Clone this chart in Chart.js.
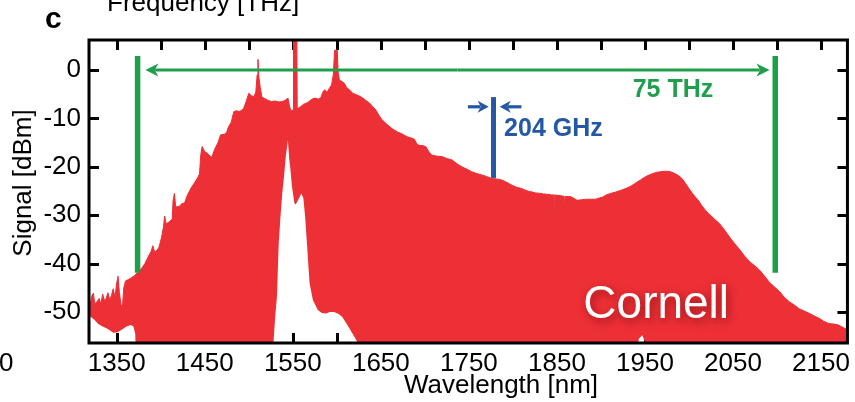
<!DOCTYPE html>
<html><head><meta charset="utf-8">
<script src="https://cdn.jsdelivr.net/npm/chart.js@4/dist/chart.umd.min.js"></script>
<style>html,body{margin:0;padding:0;background:#fff;overflow:hidden}#wrap{width:855px;height:402px;position:relative}</style>
</head><body><div id="wrap"><canvas id="c" width="855" height="402"></canvas></div>
<script>
// Upper envelope of the comb spectrum (wavelength nm, signal dBm)
const wavelengthTop = [1317,1320,1322,1323.5,1325,1328,1330,1332,1334,1336,1338,1340,1342,1344,1346,1348,1350,1351.5,1353,1355,1356.5,1358,1360,1363,1366,1370,1374,1378,1382,1386,1389,1391,1393,1396,1398,1401,1403,1404.5,1406,1410,1413,1414,1415.5,1417,1421,1424,1427,1430,1434,1438,1442,1444,1445.5,1447,1450,1453,1456,1458,1461,1465,1468,1472,1475,1477,1480,1483,1486,1489,1492,1494,1497,1500,1503,1506,1508,1509.5,1510.4,1511.5,1513,1515,1518,1522,1526,1530,1534,1538,1541,1544.5,1546,1547.5,1550.4,1550.8,1554.5,1555,1558,1562,1567,1571,1575,1579,1582,1584,1586,1589,1592,1594,1596,1597.5,1600.5,1601.5,1603,1606,1608.8,1611,1614.4,1618,1622,1626,1629.5,1633,1637,1641,1644.5,1648,1651,1655,1658,1662,1665,1669,1673,1677,1680,1684,1688,1691,1694,1697,1701,1705,1708,1714,1720,1725,1731,1736,1742,1748,1753,1759,1765,1770,1776,1781,1787,1793,1799,1804,1810,1815,1818.5,1819,1819.5,1826,1832,1834.5,1835,1835.5,1844,1846.5,1847,1847.5,1855,1858,1858.5,1859,1866,1872,1873.3,1873.7,1874.1,1883,1889,1894,1899,1900.5,1901,1901.5,1906,1911,1917,1922,1928,1934,1939,1945,1951,1956,1962,1968,1973,1979,1984,1988,1992,1996,2000,2004,2007,2011,2014,2018,2022,2029,2035,2041,2046,2052,2058,2063,2069,2075,2080,2086,2091,2097,2103,2108,2114,2120,2125,2131,2137,2142,2148,2153,2159,2165,2170,2175,2180];
const signalTop = [-48.9,-48.2,-46.5,-46.1,-48.3,-47.8,-47.2,-48.3,-46.3,-47.6,-47.2,-46,-47.5,-46.6,-45.2,-47,-44,-42.6,-46,-48.6,-48.8,-45,-43.6,-43.3,-43,-42.5,-41.8,-41,-40,-38.5,-37.5,-36.3,-37.6,-37.2,-36.6,-34.5,-32.5,-30.2,-31.8,-31.3,-30.8,-27,-25.5,-28.3,-28.2,-27.6,-27.5,-26,-24.5,-23.4,-22.2,-21.5,-17.5,-15.8,-16.9,-17.2,-17.8,-18,-16.5,-15,-13.4,-13.3,-12.8,-11.7,-10.8,-8.6,-8.4,-8.6,-8.3,-8,-6.5,-4.8,-5.3,-5.5,-4.5,-1,2.2,-1.5,-3.6,-5.6,-5.9,-6.3,-6.5,-6.4,-6.6,-6.5,-6.3,-5.8,-7.2,-8.3,-8.3,10,10,-8,-7.7,-7.1,-6.7,-6.1,-5.8,-6,-5.7,-4.6,-4.1,-4.6,-3.6,-3.1,-1,4.1,4.1,-0.5,-2.1,-2.4,-2.8,-3.6,-4.1,-4.8,-5.1,-5.4,-5.8,-6.3,-6.8,-7.6,-8.3,-9.4,-10.2,-10.9,-11.4,-12,-12.4,-12.8,-13.1,-13.5,-13.8,-14,-14.3,-15.3,-15.6,-15.6,-15.8,-17,-17.6,-17.8,-17.9,-18.3,-18.6,-19.3,-20,-20.5,-21,-21.4,-21.7,-22,-22.4,-22.5,-22.7,-23.2,-23.8,-24.2,-24.5,-24.9,-25.1,-26.8,-25.1,-25.4,-25.5,-25.6,-28,-25.6,-25.8,-25.8,-29,-25.8,-26,-26.1,-28.2,-26.1,-26.2,-26.8,-26.9,-28.5,-26.9,-26.7,-26.7,-26.7,-26.4,-26.3,-29.5,-26.3,-25.8,-25.5,-25.2,-24.9,-24.5,-24,-23.4,-22.7,-22,-21.6,-21.2,-21,-20.9,-21,-21.4,-21.8,-22.4,-23.4,-24.5,-25.5,-26.2,-27,-27.9,-28.8,-29.6,-30.8,-31.8,-33.2,-34.5,-35.9,-37.2,-38.4,-39.6,-40.5,-41.3,-42.6,-43.8,-44.8,-45.8,-46.9,-47.9,-48.6,-49.3,-49.8,-50.3,-50.8,-51.3,-51.9,-52.4,-52.5,-52.7,-53.2,-53.7];
// Lower boundary of the filled spectrum (white regions beneath it)
const wavelengthFloor = [1317,1320,1324,1329,1334,1340,1346,1351,1356,1361,1366,1369,1371,1372,1527,1528,1530,1532,1534,1536,1538,1540,1542,1544.4,1546,1547.4,1549,1551.8,1553,1554.7,1557,1559.7,1562,1564,1566.3,1569,1572.8,1578.4,1583,1587.8,1592,1597,1602,1606,1612,1617.6,1623,1625,1940,1943,1947,1950,1951,2180];
const signalFloor = [-50.6,-51,-51.5,-52.5,-53,-53.5,-54.3,-54.2,-53.6,-53,-52.7,-53,-54.5,-60,-60,-56.4,-51,-46.8,-35.8,-30.3,-25.5,-22,-17.9,-14.5,-18.5,-20.7,-24,-27.5,-27.8,-27.3,-26.5,-25.5,-26.5,-30.3,-36.5,-44,-47.5,-49.6,-50.2,-50.3,-50,-50,-50.4,-51,-52.7,-54.4,-56.1,-60,-60,-55.5,-54.8,-56.2,-60,-60];
const xTickLabels = [1350,1450,1550,1650,1750,1850,1950,2050,2150];
const yTickLabels = [0,-10,-20,-30,-40,-50];

const RED = 'rgb(237,47,54)';
const GREEN = 'rgb(31,159,75)';
const BLUE = 'rgb(36,88,165)';
const FONT = "'Liberation Sans', Arial, Helvetica, sans-serif";

const topPts = wavelengthTop.map((x,i)=>({x, y: signalTop[i]}));
const floorPts = wavelengthFloor.map((x,i)=>({x, y: signalFloor[i]}));

function arrowHead(ctx, tipX, y, dir, len, half, color){
  ctx.fillStyle = color;
  ctx.beginPath();
  ctx.moveTo(tipX, y);
  ctx.lineTo(tipX - dir*len, y - half);
  ctx.lineTo(tipX - dir*len*0.72, y);
  ctx.lineTo(tipX - dir*len, y + half);
  ctx.closePath();
  ctx.fill();
}
function arrow(ctx, x0, x1, y, color, lw, len, half){
  const dir = Math.sign(x1 - x0);
  ctx.strokeStyle = color; ctx.lineWidth = lw; ctx.lineCap = 'butt';
  ctx.beginPath(); ctx.moveTo(x0, y); ctx.lineTo(x1 - dir*len*0.75, y); ctx.stroke();
  arrowHead(ctx, x1, y, dir, len, half, color);
}

const annot = {
  id: 'annot',
  beforeDatasetsDraw(chart){
    const {ctx, chartArea: a, scales: {x, y}} = chart;
    ctx.save();
    ctx.strokeStyle = '#000'; ctx.lineWidth = 3;
    x.ticks.forEach(t => {
      const px = Math.round(x.getPixelForValue(t.value)) + 0.5;
      ctx.beginPath(); ctx.moveTo(px, a.top); ctx.lineTo(px, a.top + 10); ctx.stroke();
      ctx.beginPath(); ctx.moveTo(px, a.bottom); ctx.lineTo(px, a.bottom - 10); ctx.stroke();
    });
    y.ticks.forEach(t => {
      const py = Math.round(y.getPixelForValue(t.value)) + 0.5;
      ctx.beginPath(); ctx.moveTo(a.left, py); ctx.lineTo(a.left + 10, py); ctx.stroke();
      ctx.beginPath(); ctx.moveTo(a.right, py); ctx.lineTo(a.right - 10, py); ctx.stroke();
    });
    ctx.restore();
  },
  afterDatasetsDraw(chart){
    const {ctx, chartArea: a, scales: {x, y}} = chart;
    ctx.save();
    // frame
    ctx.strokeStyle = '#000'; ctx.lineWidth = 3;
    ctx.strokeRect(a.left, a.top, a.right - a.left, a.bottom - a.top);

    // green span markers
    ctx.strokeStyle = GREEN; ctx.lineWidth = 5.5;
    [1373.7, 2098].forEach(w => {
      const px = x.getPixelForValue(w);
      ctx.beginPath(); ctx.moveTo(px, y.getPixelForValue(2.9)); ctx.lineTo(px, y.getPixelForValue(-41.9)); ctx.stroke();
    });
    const y0 = y.getPixelForValue(0);
    const gl = x.getPixelForValue(1382.5), gr = x.getPixelForValue(2091.5);
    const gm = (gl + gr) / 2;
    arrow(ctx, gm, gl, y0, GREEN, 3.2, 13, 6.5);
    arrow(ctx, gm, gr, y0, GREEN, 3.2, 13, 6.5);

    // blue comb spacing marker
    ctx.strokeStyle = BLUE; ctx.lineWidth = 5;
    const bx = x.getPixelForValue(1778);
    ctx.beginPath(); ctx.moveTo(bx, y.getPixelForValue(-5.6)); ctx.lineTo(bx, y.getPixelForValue(-22.3)); ctx.stroke();
    const by = y.getPixelForValue(-7.6);
    arrow(ctx, x.getPixelForValue(1748.9), x.getPixelForValue(1772.5), by, BLUE, 3.2, 11, 6);
    arrow(ctx, x.getPixelForValue(1809.7), x.getPixelForValue(1785), by, BLUE, 3.2, 11, 6);

    // labels
    ctx.textBaseline = 'alphabetic'; ctx.textAlign = 'left';
    ctx.font = 'bold 25px ' + FONT;
    ctx.fillStyle = GREEN;
    ctx.fillText('75 THz', x.getPixelForValue(1936), y.getPixelForValue(-5.5));
    ctx.fillStyle = BLUE;
    ctx.fillText('204 GHz', x.getPixelForValue(1790), y.getPixelForValue(-13.6));

    ctx.font = '46px ' + FONT;
    ctx.shadowColor = 'rgba(90,0,0,0.6)';
    ctx.shadowBlur = 9; ctx.shadowOffsetX = 2; ctx.shadowOffsetY = 3;
    ctx.fillStyle = '#fff';
    ctx.fillText('Cornell', x.getPixelForValue(1880), y.getPixelForValue(-51.2));
    ctx.restore();
  },
  afterDraw(chart){
    const {ctx} = chart;
    ctx.save();
    ctx.fillStyle = '#000';
    ctx.textBaseline = 'alphabetic';
    ctx.font = '26px ' + FONT;
    ctx.textAlign = 'center';
    ctx.fillText('Wavelength [nm]', 501, 393);
    ctx.textAlign = 'left';
    ctx.fillText('Frequency [THz]', 107, 11);
    ctx.fillText('0', -1, 371);
    ctx.save();
    ctx.translate(31, 183); ctx.rotate(-Math.PI/2);
    ctx.textAlign = 'center';
    ctx.fillText('Signal [dBm]', 0, 0);
    ctx.restore();
    ctx.font = 'bold 30px ' + FONT;
    ctx.fillText('c', 45, 28);
    ctx.restore();
  }
};

new Chart(document.getElementById('c').getContext('2d'), {
  type: 'line',
  data: { datasets: [
    { data: topPts, fill: '+1', backgroundColor: RED, borderColor: RED, borderWidth: 1, pointRadius: 0, tension: 0 },
    { data: floorPts, fill: false, borderColor: 'rgba(0,0,0,0)', borderWidth: 1, pointRadius: 0, tension: 0 }
  ]},
  options: {
    responsive: false, animation: false, devicePixelRatio: 1,
    layout: { padding: { top: 40, right: 1.5, left: 0, bottom: 0 } },
    plugins: { legend: { display: false }, tooltip: { enabled: false } },
    scales: {
      x: { type: 'linear', min: 1318.5, max: 2180,
        grid: { display: false, drawTicks: false }, border: { display: false },
        ticks: { stepSize: 50, includeBounds: false, autoSkip: false, maxRotation: 0, maxTicksLimit: 100, padding: 5,
          color: '#000', font: { family: FONT, size: 26 },
          callback: v => xTickLabels.includes(v) ? String(v) : '' },
        afterFit(s){ s.height = 59; } },
      y: { type: 'linear', min: -56.4, max: 6.2,
        grid: { display: false, drawTicks: false }, border: { display: false },
        ticks: { stepSize: 10, includeBounds: false, padding: 8, maxTicksLimit: 100,
          color: '#000', font: { family: FONT, size: 26 },
          callback: v => yTickLabels.includes(v) ? String(v) : '' },
        afterFit(s){ s.width = 89; } }
    }
  },
  plugins: [annot]
});
</script>
</body></html>
